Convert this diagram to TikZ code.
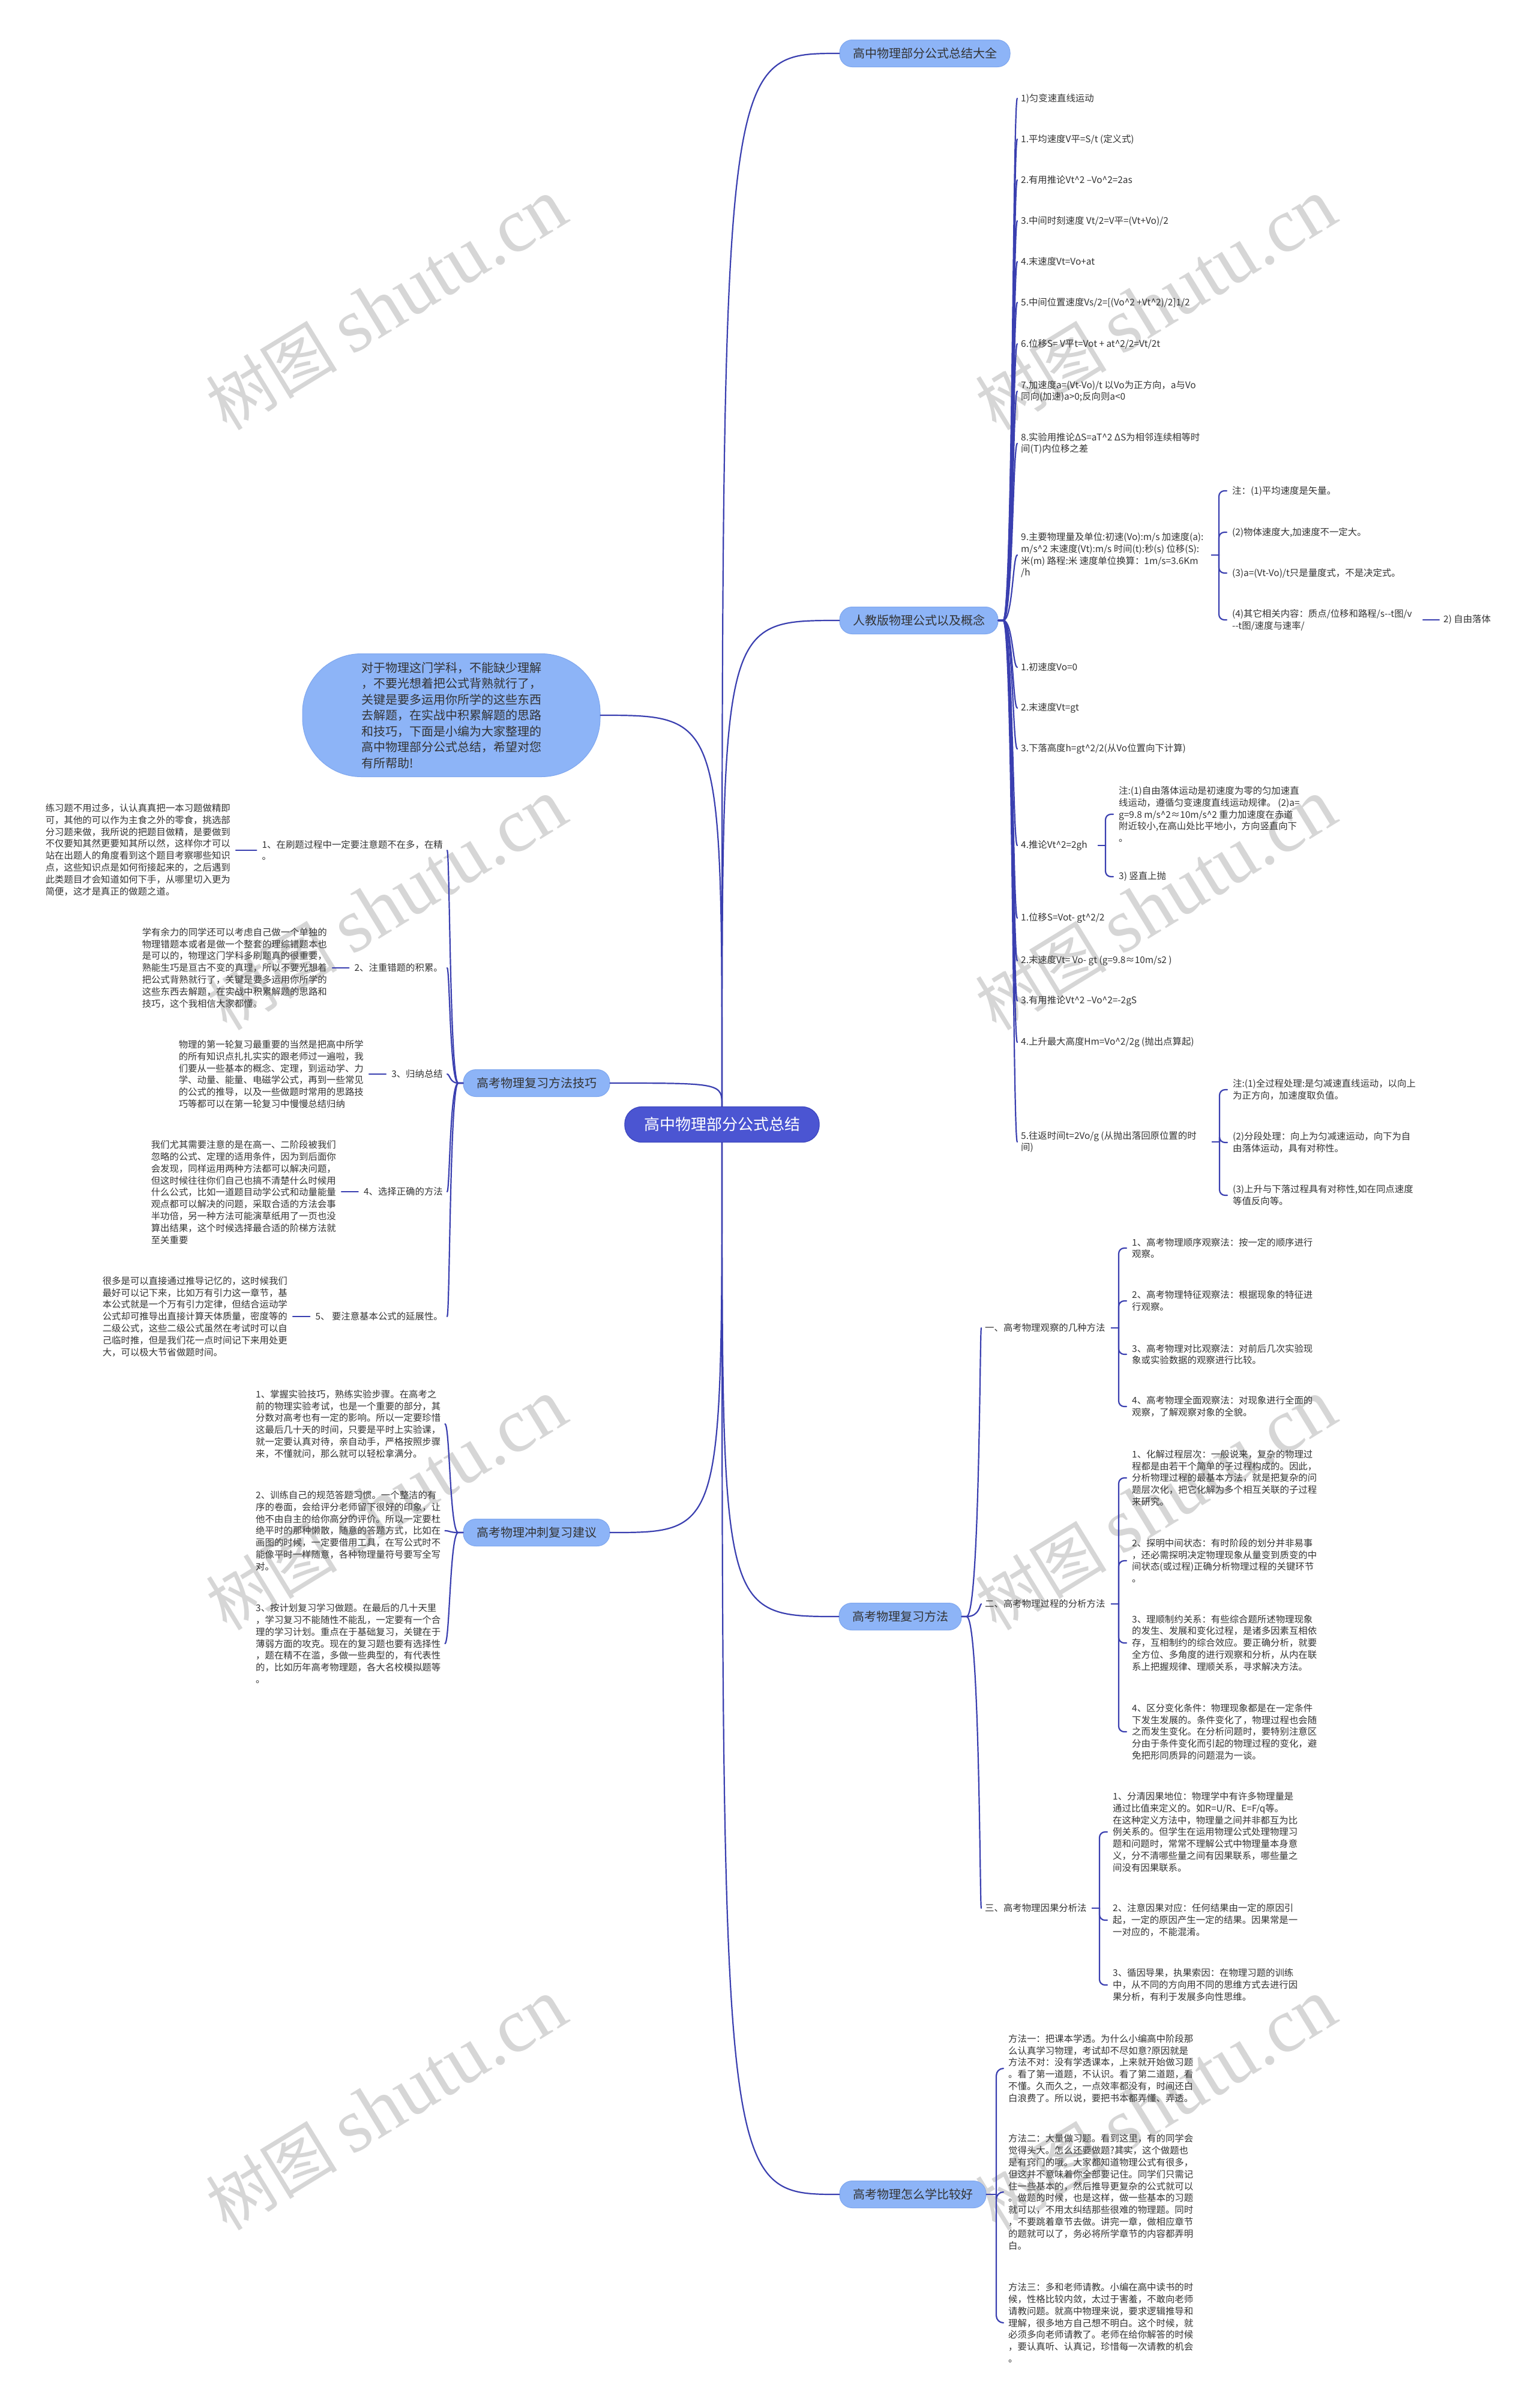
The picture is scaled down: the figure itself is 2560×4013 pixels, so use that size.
\documentclass[tikz,border=0pt]{standalone}
\usepackage{fontspec}
\setmainfont{Noto Sans CJK SC}
\newfontfamily\wmlat{Liberation Serif}
\usetikzlibrary{calc}
\definecolor{lc}{HTML}{3A3FB0}
\definecolor{rootc}{HTML}{4B55D2}
\definecolor{rootd}{HTML}{3C46BE}
\definecolor{lonec}{HTML}{8DB4F7}
\definecolor{loned}{HTML}{7EA6EE}
\definecolor{tc}{HTML}{333333}
\newcommand{\kt}{\textasciicircum}
\newcommand{\rbun}[3]{\draw[conn] (#1.east) -- ($(#1.east)+(8,0)$) .. controls ($(#1.east)+(#3,0)$) and ($(#1.east |- #2.west)+(#3,0)$) .. ($(#2.west)+(-6,0)$);}
\newcommand{\lbun}[3]{\draw[conn] (#1.west) -- ($(#1.west)+(-8,0)$) .. controls ($(#1.west)+(-#3,0)$) and ($(#1.west |- #2.east)+(-#3,0)$) .. ($(#2.east)+(7,0)$);}
\newcommand{\rbrk}[2]{\draw[conn] ($(#1.east -| #2.west)+(-34,0)$) -- ($(#1.east -| #2.west)+(-22,0)$); \draw[conn, rounded corners=9pt] ($(#1.east -| #2.west)+(-22,0)$) |- ($(#2.west)+(-9,0)$);}
\begin{document}
\begin{tikzpicture}[x=1pt,y=-1pt,
  conn/.style={draw=lc, line width=2.2pt, line cap=round},
  rootn/.style={fill=rootc, draw=rootd, line width=1.2pt, rounded corners=28pt, text=white, font=\fontsize{26}{30}\selectfont, minimum height=59pt, inner xsep=32pt},
  lvone/.style={fill=lonec, draw=loned, line width=1pt, rounded corners=21pt, text=tc, font=\fontsize{20}{24}\selectfont, minimum height=45pt, inner xsep=22pt},
  leaf/.style={font=\fontsize{15.4}{19.8}\selectfont, align=left, inner sep=0pt, text=tc},
  lw/.style={leaf, anchor=west},
  le/.style={leaf, anchor=east},
  wm/.style={text=black!16, rotate=31.5, anchor=base west, inner sep=0pt}]
\useasboundingbox (0,0) rectangle (2560,4013);
\fill[white] (0,0) rectangle (2560,4013);
% watermarks
\foreach \wx in {378,1660}{\foreach \wy in {720,1720,2720,3720}{
  \node[wm] (wm\wx\wy) at (\wx,\wy) {\fontsize{110}{120}\selectfont 树图 {\wmlat\fontsize{128}{130}\selectfont shutu.cn}};}}
% root and level one
\node[rootn] (root) at (1203,1874) {高中物理部分公式总结};
\node[lvone] (topa) at (1541,89) {高中物理部分公式总结大全};
\node[lvone] (rj) at (1531,1034) {人教版物理公式以及概念};
\node[lvone] (fx) at (1500,2694) {高考物理复习方法};
\node[lvone] (zm) at (1521,3657) {高考物理怎么学比较好};
\node[lvone] (jq) at (894,1805) {高考物理复习方法技巧};
\node[lvone] (cc) at (894,2554) {高考物理冲刺复习建议};
\node[fill=lonec, draw=loned, line width=1pt, rounded corners=98pt, minimum width=496pt, minimum height=205pt, align=left, text=tc, font=\fontsize{20}{26.5}\selectfont] (intro) at (752,1192) {对于物理这门学科，不能缺少理解\\，不要光想着把公式背熟就行了，\\关键是要多运用你所学的这些东西\\去解题，在实战中积累解题的思路\\和技巧，下面是小编为大家整理的\\高中物理部分公式总结，希望对您\\有所帮助!};
% root connectors
\draw[conn] (root.north) .. controls (root.north |- topa.west) .. (topa.west);
\draw[conn] (root.north) .. controls (root.north |- rj.west) .. (rj.west);
\draw[conn] (root.north) .. controls (root.north |- jq.east) .. (jq.east);
\draw[conn] (root.north) .. controls (root.north |- intro.east) .. (intro.east);
\draw[conn] (root.south) .. controls (root.south |- fx.west) .. (fx.west);
\draw[conn] (root.south) .. controls (root.south |- zm.west) .. (zm.west);
\draw[conn] (root.south) .. controls (root.south |- cc.east) .. (cc.east);
% renjiao children
\node[lw] (a1) at (1701,164) {1)匀变速直线运动};
\node[lw] (a2) at (1701,232) {1.平均速度V平=S/t (定义式)};
\node[lw] (a3) at (1701,300) {2.有用推论Vt\kt2 –Vo\kt2=2as};
\node[lw] (a4) at (1701,368) {3.中间时刻速度 Vt/2=V平=(Vt+Vo)/2};
\node[lw] (a5) at (1701,436) {4.末速度Vt=Vo+at};
\node[lw] (a6) at (1701,504) {5.中间位置速度Vs/2=[(Vo\kt2 +Vt\kt2)/2]1/2};
\node[lw] (a7) at (1701,573) {6.位移S= V平t=Vot + at\kt2/2=Vt/2t};
\node[lw] (a8) at (1701,652) {7.加速度a=(Vt-Vo)/t 以Vo为正方向，a与Vo\\同向(加速)a>0;反向则a<0};
\node[lw] (a9) at (1701,739) {8.实验用推论ΔS=aT\kt2 ΔS为相邻连续相等时\\间(T)内位移之差};
\node[lw] (a10) at (1701,925) {9.主要物理量及单位:初速(Vo):m/s 加速度(a):\\m/s\kt2 末速度(Vt):m/s 时间(t):秒(s) 位移(S):\\米(m) 路程:米 速度单位换算：1m/s=3.6Km\\/h};
\node[lw] (a11) at (1701,1112) {1.初速度Vo=0};
\node[lw] (a12) at (1701,1180) {2.末速度Vt=gt};
\node[lw] (a13) at (1701,1248) {3.下落高度h=gt\kt2/2(从Vo位置向下计算)};
\node[lw] (a14) at (1701,1409) {4.推论Vt\kt2=2gh};
\node[lw] (a15) at (1701,1530) {1.位移S=Vot- gt\kt2/2};
\node[lw] (a16) at (1701,1601) {2.末速度Vt= Vo- gt (g=9.8≈10m/s2 )};
\node[lw] (a17) at (1701,1668) {3.有用推论Vt\kt2 –Vo\kt2=-2gS};
\node[lw] (a18) at (1701,1737) {4.上升最大高度Hm=Vo\kt2/2g (抛出点算起)};
\node[lw] (a19) at (1701,1903) {5.往返时间t=2Vo/g (从抛出落回原位置的时\\间)};
\foreach \n in {a1,a2,a3,a4,a5,a6,a7,a8,a9,a10,a11,a12,a13,a14,a15,a16,a17,a18,a19}{\rbun{rj}{\n}{24}}
\node[lw] (b1) at (2053,818) {注：(1)平均速度是矢量。};
\node[lw] (b2) at (2053,887) {(2)物体速度大,加速度不一定大。};
\node[lw] (b3) at (2053,955) {(3)a=(Vt-Vo)/t只是量度式，不是决定式。};
\node[lw] (b4) at (2053,1033) {(4)其它相关内容：质点/位移和路程/s-{}-t图/v\\-{}-t图/速度与速率/};
\node[lw] (c1) at (2405,1033) {2) 自由落体};
\foreach \n in {b1,b2,b3,b4}{\rbrk{a10}{\n}}
\draw[conn] ($(c1.west)+(-34,0)$) -- ($(c1.west)+(-7,0)$);
\node[lw] (d1) at (1864,1357) {注:(1)自由落体运动是初速度为零的匀加速直\\线运动，遵循匀变速度直线运动规律。 (2)a=\\g=9.8 m/s\kt2≈10m/s\kt2 重力加速度在赤道\\附近较小,在高山处比平地小，方向竖直向下\\。};
\node[lw] (d2) at (1864,1461) {3) 竖直上抛};
\foreach \n in {d1,d2}{\rbrk{a14}{\n}}
\node[lw] (e1) at (2054,1816) {注:(1)全过程处理:是匀减速直线运动，以向上\\为正方向，加速度取负值。};
\node[lw] (e2) at (2054,1904) {(2)分段处理：向上为匀减速运动，向下为自\\由落体运动，具有对称性。};
\node[lw] (e3) at (2054,1992) {(3)上升与下落过程具有对称性,如在同点速度\\等值反向等。};
\foreach \n in {e1,e2,e3}{\rbrk{a19}{\n}}
% fuxi fangfa
\node[lw] (f1) at (1641,2213) {一、高考物理观察的几种方法};
\node[lw] (f2) at (1641,2673) {二、高考物理过程的分析方法};
\node[lw] (f3) at (1641,3180) {三、高考物理因果分析法};
\foreach \n in {f1,f2,f3}{\rbun{fx}{\n}{30}}
\node[lw] (g1) at (1886,2080) {1、高考物理顺序观察法：按一定的顺序进行\\观察。};
\node[lw] (g2) at (1886,2168) {2、高考物理特征观察法：根据现象的特征进\\行观察。};
\node[lw] (g3) at (1886,2257) {3、高考物理对比观察法：对前后几次实验现\\象或实验数据的观察进行比较。};
\node[lw] (g4) at (1886,2344) {4、高考物理全面观察法：对现象进行全面的\\观察，了解观察对象的全貌。};
\foreach \n in {g1,g2,g3,g4}{\rbrk{f1}{\n}}
\node[lw] (h1) at (1886,2463) {1、化解过程层次：一般说来，复杂的物理过\\程都是由若干个简单的子过程构成的。因此，\\分析物理过程的最基本方法，就是把复杂的问\\题层次化，把它化解为多个相互关联的子过程\\来研究。};
\node[lw] (h2) at (1886,2601) {2、探明中间状态：有时阶段的划分并非易事\\，还必需探明决定物理现象从量变到质变的中\\间状态(或过程)正确分析物理过程的关键环节\\。};
\node[lw] (h3) at (1886,2738) {3、理顺制约关系：有些综合题所述物理现象\\的发生、发展和变化过程，是诸多因素互相依\\存，互相制约的综合效应。要正确分析，就要\\全方位、多角度的进行观察和分析，从内在联\\系上把握规律、理顺关系，寻求解决方法。};
\node[lw] (h4) at (1886,2886) {4、区分变化条件：物理现象都是在一定条件\\下发生发展的。条件变化了，物理过程也会随\\之而发生变化。在分析问题时，要特别注意区\\分由于条件变化而引起的物理过程的变化，避\\免把形同质异的问题混为一谈。};
\foreach \n in {h1,h2,h3,h4}{\rbrk{f2}{\n}}
\node[lw] (i1) at (1854,3053) {1、分清因果地位：物理学中有许多物理量是\\通过比值来定义的。如R=U/R、E=F/q等。\\在这种定义方法中，物理量之间并非都互为比\\例关系的。但学生在运用物理公式处理物理习\\题和问题时，常常不理解公式中物理量本身意\\义，分不清哪些量之间有因果联系，哪些量之\\间没有因果联系。};
\node[lw] (i2) at (1854,3200) {2、注意因果对应：任何结果由一定的原因引\\起，一定的原因产生一定的结果。因果常是一\\一对应的，不能混淆。};
\node[lw] (i3) at (1854,3308) {3、循因导果，执果索因：在物理习题的训练\\中，从不同的方向用不同的思维方式去进行因\\果分析，有利于发展多向性思维。};
\foreach \n in {i1,i2,i3}{\rbrk{f3}{\n}}
% zenme xue
\node[lw] (j1) at (1680,3447) {方法一：把课本学透。为什么小编高中阶段那\\么认真学习物理，考试却不尽如意?原因就是\\方法不对：没有学透课本，上来就开始做习题\\。看了第一道题，不认识。看了第二道题，看\\不懂。久而久之，一点效率都没有，时间还白\\白浪费了。所以说，要把书本都弄懂、弄透。};
\node[lw] (j2) at (1680,3653) {方法二：大量做习题。看到这里，有的同学会\\觉得头大。怎么还要做题?其实，这个做题也\\是有窍门的哦。大家都知道物理公式有很多，\\但这并不意味着你全部要记住。同学们只需记\\住一些基本的，然后推导更复杂的公式就可以\\。做题的时候，也是这样，做一些基本的习题\\就可以，不用太纠结那些很难的物理题。同时\\，不要跳着章节去做。讲完一章，做相应章节\\的题就可以了，务必将所学章节的内容都弄明\\白。};
\node[lw] (j3) at (1680,3871) {方法三：多和老师请教。小编在高中读书的时\\候，性格比较内敛，太过于害羞，不敢向老师\\请教问题。就高中物理来说，要求逻辑推导和\\理解，很多地方自己想不明白。这个时候，就\\必须多向老师请教了。老师在给你解答的时候\\，要认真听、认真记，珍惜每一次请教的机会\\。};
\draw[conn] (zm.east) -- ($(zm.east -| j1.west)+(-20,0)$);
\foreach \n in {j1,j2,j3}{\draw[conn, rounded corners=12pt] ($(zm.east -| \n.west)+(-20,0)$) |- ($(\n.west)+(-8,0)$);}
% left: fuxi fangfa jiqiao
\node[le] (k1) at (738,1417) {1、在刷题过程中一定要注意题不在多，在精\\。};
\node[le] (k2) at (738,1613) {2、注重错题的积累。};
\node[le] (k3) at (738,1790) {3、归纳总结};
\node[le] (k4) at (738,1986) {4、选择正确的方法};
\node[le] (k5) at (738,2194) {5、 要注意基本公式的延展性。};
\foreach \n in {k1,k2,k3,k4,k5}{\lbun{jq}{\n}{22}}
\node[le] (k1n) at (384,1416) {练习题不用过多，认认真真把一本习题做精即\\可，其他的可以作为主食之外的零食，挑选部\\分习题来做，我所说的把题目做精，是要做到\\不仅要知其然更要知其所以然，这样你才可以\\站在出题人的角度看到这个题目考察哪些知识\\点，这些知识点是如何衔接起来的，之后遇到\\此类题目才会知道如何下手，从哪里切入更为\\简便，这才是真正的做题之道。};
\node[le] (k2n) at (545,1613) {学有余力的同学还可以考虑自己做一个单独的\\物理错题本或者是做一个整套的理综错题本也\\是可以的，物理这门学科多刷题真的很重要，\\熟能生巧是亘古不变的真理，所以不要光想着\\把公式背熟就行了，关键是要多运用你所学的\\这些东西去解题，在实战中积累解题的思路和\\技巧，这个我相信大家都懂。};
\node[le] (k3n) at (606,1790) {物理的第一轮复习最重要的当然是把高中所学\\的所有知识点扎扎实实的跟老师过一遍啦，我\\们要从一些基本的概念、定理，到运动学、力\\学、动量、能量、电磁学公式，再到一些常见\\的公式的推导，以及一些做题时常用的思路技\\巧等都可以在第一轮复习中慢慢总结归纳};
\node[le] (k4n) at (560,1987) {我们尤其需要注意的是在高一、二阶段被我们\\忽略的公式、定理的适用条件，因为到后面你\\会发现，同样运用两种方法都可以解决问题，\\但这时候往往你们自己也搞不清楚什么时候用\\什么公式，比如一道题目动学公式和动量能量\\观点都可以解决的问题，采取合适的方法会事\\半功倍，另一种方法可能演草纸用了一页也没\\算出结果，这个时候选择最合适的阶梯方法就\\至关重要};
\node[le] (k5n) at (479,2194) {很多是可以直接通过推导记忆的，这时候我们\\最好可以记下来，比如万有引力这一章节，基\\本公式就是一个万有引力定律，但结合运动学\\公式却可推导出直接计算天体质量，密度等的\\二级公式，这些二级公式虽然在考试时可以自\\己临时推，但是我们花一点时间记下来用处更\\大，可以极大节省做题时间。};
\foreach \n in {k1,k2,k3,k4,k5}{\draw[conn] ($(\n.west)+(-9,0)$) -- ($(\n.west -| \n n.east)+(9,0)$);}
% left: chongci
\node[lw] (m1) at (426,2373) {1、掌握实验技巧，熟练实验步骤。在高考之\\前的物理实验考试，也是一个重要的部分，其\\分数对高考也有一定的影响。所以一定要珍惜\\这最后几十天的时间，只要是平时上实验课，\\就一定要认真对待，亲自动手，严格按照步骤\\来，不懂就问，那么就可以轻松拿满分。};
\node[lw] (m2) at (426,2551) {2、训练自己的规范答题习惯。一个整洁的有\\序的卷面，会给评分老师留下很好的印象，让\\他不由自主的给你高分的评价。所以一定要杜\\绝平时的那种懒散，随意的答题方式，比如在\\画图的时候，一定要借用工具，在写公式时不\\能像平时一样随意，各种物理量符号要写全写\\对。};
\node[lw] (m3) at (426,2739) {3、按计划复习学习做题。在最后的几十天里\\，学习复习不能随性不能乱，一定要有一个合\\理的学习计划。重点在于基础复习，关键在于\\薄弱方面的攻克。现在的复习题也要有选择性\\，题在精不在滥，多做一些典型的，有代表性\\的，比如历年高考物理题，各大名校模拟题等\\。};
\foreach \n in {m1,m2,m3}{\lbun{cc}{\n}{22}}
\end{tikzpicture}
\end{document}
